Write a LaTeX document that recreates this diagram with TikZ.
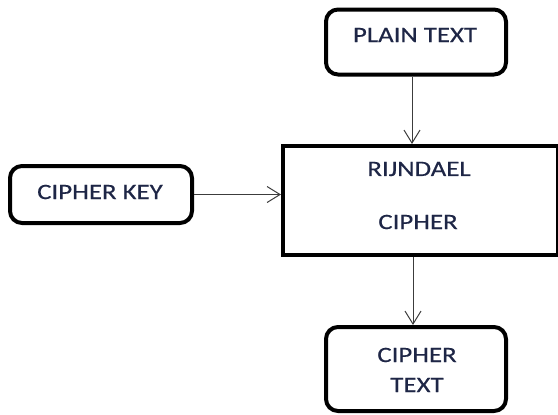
\documentclass[tikz,border=0pt]{standalone}
\usepackage{fontspec}
\setmainfont{Carlito}
\newfontfamily\lblfont{Carlito}[FakeBold=0.35]
\usetikzlibrary{arrows.meta,calc}
\definecolor{txt}{RGB}{30,38,70}
\definecolor{conn}{RGB}{60,60,60}
\newcommand{\widetxt}[1]{\scalebox{1.22}[1]{#1}}
\begin{document}
\begin{tikzpicture}[x=1pt,y=-1pt,
  rbox/.style={draw=black,line width=4pt,rounded corners=12pt,fill=white,inner sep=0pt},
  sbox/.style={draw=black,line width=4pt,fill=white,inner sep=0pt},
  lbl/.style={text=txt,font=\lblfont\fontsize{22}{26}\selectfont,inner sep=0pt},
  arr/.style={draw=conn,line width=1pt,-{Straight Barb[length=13pt,width=16pt,line width=1pt]}}]
  \useasboundingbox (0,0) rectangle (558,415);
  % boxes
  \node[rbox,minimum width=180pt,minimum height=65pt] (plain) at (416,42) {};
  \node[rbox,minimum width=182pt,minimum height=57pt] (key) at (101,194.5) {};
  \node[sbox,minimum width=275pt,minimum height=109pt] (rijndael) at (420.5,200.5) {};
  \node[rbox,minimum width=180pt,minimum height=84pt] (ctext) at (416,369) {};
  % labels
  \node[lbl] (plainlbl) at (415,35) {\widetxt{PLAIN TEXT}};
  \node[lbl] (keylbl) at (100,192) {\widetxt{CIPHER KEY}};
  \node[lbl] (rlbl1) at (419,169) {\widetxt{RIJNDAEL}};
  \node[lbl] (rlbl2) at (418,222) {\widetxt{CIPHER}};
  \node[lbl] (clbl1) at (417,355) {\widetxt{CIPHER}};
  \node[lbl] (clbl2) at (417,385) {\widetxt{TEXT}};
  % connectors
  \draw[arr] ([xshift=-4pt]plain.south) -- ([xshift=-4pt]plain.south |- rijndael.north);
  \draw[arr] (key.east) -- (key.east -| rijndael.west);
  \draw[arr] ([xshift=-3pt]ctext.north |- rijndael.south) -- ([xshift=-3pt]ctext.north);
\end{tikzpicture}
\end{document}
